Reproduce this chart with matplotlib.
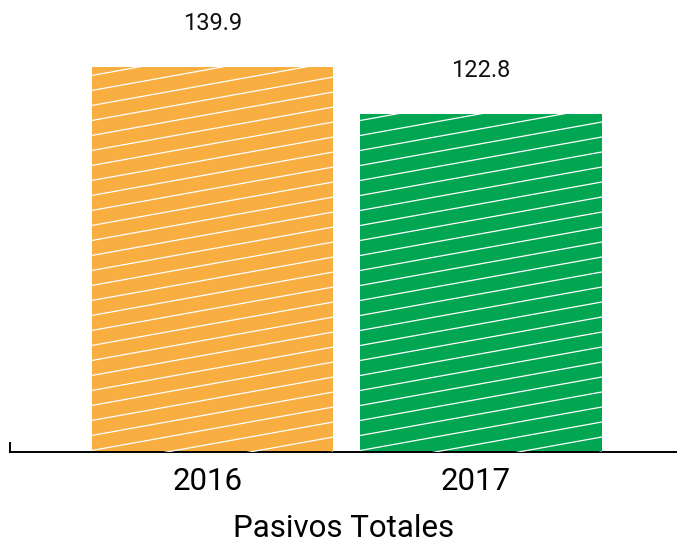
import numpy as np
import matplotlib
matplotlib.use("Agg")
import matplotlib.pyplot as plt
from matplotlib.transforms import ScaledTranslation

plt.rcParams['font.family'] = ['Roboto', 'DejaVu Sans']

years = ["2016", "2017"]
values = [139.9, 122.8]
colors = ["#F9AE41", "#00A651"]
xlabel = "Pasivos Totales"

fig = plt.figure(figsize=(6.77, 5.43), dpi=100)
ax = fig.add_axes([10 / 677, 91 / 543, 667 / 677, 452 / 543])

x = np.arange(len(years))
bars = ax.bar(x, values, width=0.9, color=colors, zorder=2)

ax.set_xlim(-0.754, 1.730)
ax.set_ylim(0, 164.2)

# value labels above bars
for xi, v in zip(x, values):
    ax.annotate(f"{v:.1f}", (xi, v), xytext=(0, 23), textcoords="offset points",
                ha="center", va="bottom", fontsize=17, color="#111111")

ax.set_xticks(x)
ax.set_xticklabels(years, fontsize=22.5)
ax.tick_params(axis="x", length=0, pad=11)
# tick labels sit a little left of bar centres in the original
shift = ScaledTranslation(-5 / 100, 0, fig.dpi_scale_trans)
for lbl in ax.get_xticklabels():
    lbl.set_transform(lbl.get_transform() + shift)
ax.set_yticks([])
ax.set_xlabel(xlabel, fontsize=22.5, labelpad=13)

for s in ["top", "right"]:
    ax.spines[s].set_visible(False)
ax.spines["bottom"].set_linewidth(1.4)
ax.spines["left"].set_linewidth(1.4)
ax.spines["left"].set_bounds(0, 3.3)

# shallow white stripes inside each bar (decoration)
fig.canvas.draw()
p0 = ax.transData.transform((0, 0))
p1 = ax.transData.transform((1, 1))
px_x = p1[0] - p0[0]
px_y = p1[1] - p0[1]
slope = 0.18 * px_x / px_y
step = 15 / px_y
for b in bars:
    x0, x1 = b.get_x(), b.get_x() + b.get_width()
    h = b.get_height()
    for c in np.arange(-slope * (x1 - x0), h + step, step):
        ln, = ax.plot([x0, x1], [c, c + slope * (x1 - x0)], color="white",
                      lw=0.9, zorder=3)
        ln.set_clip_path(b)

fig.savefig("out.png", dpi=100)
